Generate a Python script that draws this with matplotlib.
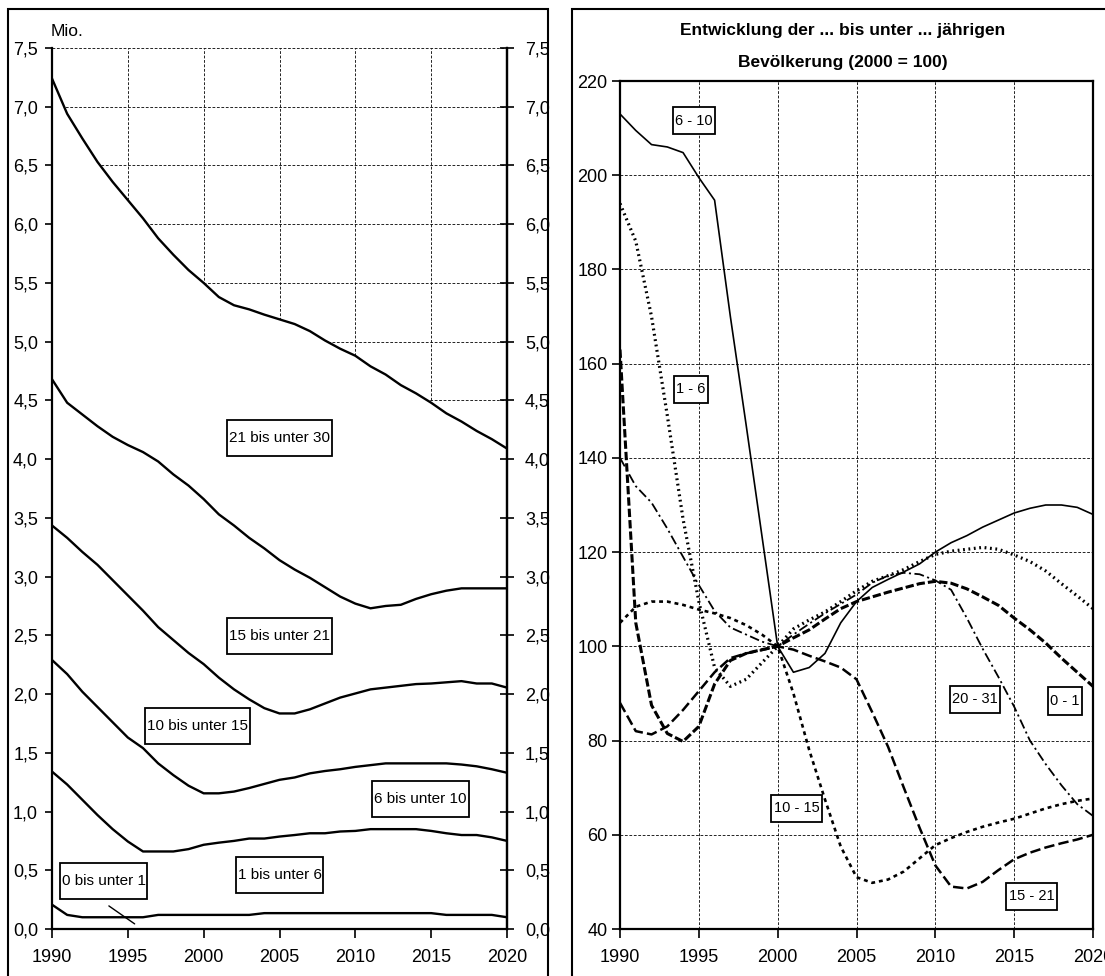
import numpy as np
import matplotlib
matplotlib.use("Agg")
import matplotlib.pyplot as plt
from matplotlib.patches import Rectangle
from matplotlib.path import Path
from matplotlib.ticker import FuncFormatter

plt.rcParams['font.family'] = ['Liberation Sans', 'DejaVu Sans']
plt.rcParams['lines.scale_dashes'] = False

# ---------------- data ----------------
years = list(range(1990, 2021))

# left chart: population (Mio.) below age limit (cumulative boundaries)
under_1 = [0.207, 0.12, 0.10, 0.10, 0.10, 0.10, 0.10, 0.12, 0.12, 0.12, 0.12, 0.12, 0.12, 0.12,
           0.135, 0.135, 0.135, 0.135, 0.135, 0.135, 0.135, 0.135, 0.135, 0.135, 0.135, 0.135,
           0.12, 0.12, 0.12, 0.12, 0.10]
under_6 = [1.34, 1.23, 1.10, 0.97, 0.85, 0.745, 0.66, 0.66, 0.66, 0.68, 0.717, 0.735, 0.75, 0.77,
           0.77, 0.787, 0.80, 0.815, 0.815, 0.83, 0.835, 0.85, 0.85, 0.85, 0.85, 0.835, 0.815,
           0.80, 0.80, 0.78, 0.75]
under_10 = [2.29, 2.17, 2.02, 1.89, 1.76, 1.63, 1.54, 1.41, 1.31, 1.22, 1.155, 1.155, 1.17, 1.20,
            1.235, 1.27, 1.29, 1.325, 1.345, 1.36, 1.38, 1.395, 1.41, 1.41, 1.41, 1.41, 1.41,
            1.40, 1.385, 1.36, 1.33]
under_15 = [3.435, 3.33, 3.21, 3.10, 2.97, 2.84, 2.71, 2.57, 2.46, 2.35, 2.255, 2.14, 2.04, 1.955,
            1.88, 1.835, 1.835, 1.87, 1.92, 1.97, 2.005, 2.04, 2.055, 2.07, 2.085, 2.09, 2.10,
            2.11, 2.09, 2.09, 2.055]
under_21 = [4.68, 4.48, 4.38, 4.28, 4.19, 4.12, 4.06, 3.98, 3.87, 3.775, 3.66, 3.53, 3.435, 3.33,
            3.24, 3.14, 3.06, 2.99, 2.91, 2.83, 2.77, 2.73, 2.75, 2.76, 2.81, 2.85, 2.88, 2.90,
            2.90, 2.90, 2.90]
under_30 = [7.24, 6.94, 6.73, 6.53, 6.36, 6.205, 6.05, 5.88, 5.74, 5.61, 5.50, 5.38, 5.31, 5.275,
            5.23, 5.19, 5.15, 5.09, 5.01, 4.94, 4.88, 4.79, 4.72, 4.63, 4.56, 4.48, 4.39, 4.32,
            4.24, 4.17, 4.09]

left_labels = ["0 bis unter 1", "1 bis unter 6", "6 bis unter 10", "10 bis unter 15",
               "15 bis unter 21", "21 bis unter 30"]
left_label_x = [1993.4, 2005.0, 2014.3, 1999.6, 2005.0, 2005.0]
left_label_y = [0.405, 0.456, 1.11, 1.73, 2.495, 4.18]

# right chart: index 2000 = 100
idx_0_1 = [163, 105, 87.5, 81.5, 79.8, 83, 92, 97, 98.5, 99.3, 100, 101.8, 103.5, 105.8, 108,
           109.5, 110.5, 111.5, 112.4, 113.3, 113.8, 113.4, 112.2, 110.5, 108.7, 106, 103.5,
           100.7, 97.5, 94.5, 91.5]
idx_1_6 = [194, 186, 170, 149, 127, 109.5, 95.5, 91.5, 93, 96.5, 100, 103.7, 105.6, 107.3, 109.5,
           111.8, 113.8, 115, 116.3, 118, 119.5, 120.2, 120.6, 121, 120.6, 119.4, 118, 116,
           113.3, 110.7, 108]
idx_6_10 = [213, 209.5, 206.5, 206, 204.8, 199.5, 194.7, 170, 147, 123.5, 100, 94.5, 95.5, 98.5,
            105, 109.5, 112.5, 114.2, 115.8, 117.5, 120, 122, 123.5, 125.3, 126.8, 128.3, 129.3,
            130, 130, 129.5, 128]
idx_10_15 = [105, 108.4, 109.5, 109.5, 108.8, 107.8, 107, 106, 104.5, 102.5, 100, 90, 78, 67.5,
             57.5, 51, 49.8, 50.5, 52.2, 55, 57.8, 59.3, 60.6, 61.7, 62.6, 63.4, 64.5, 65.6,
             66.5, 67.2, 67.7]
idx_15_21 = [88, 82, 81.3, 83, 86.5, 90.5, 94.5, 97.5, 98.5, 99.2, 100, 99.3, 98, 96.8, 95.5, 93,
             86, 78.7, 70, 61.5, 53.5, 49, 48.6, 50, 52.5, 54.8, 56.2, 57.3, 58.2, 59, 60]
idx_21_30 = [140, 134, 130.5, 125, 119, 113, 107.5, 104, 102.5, 101, 100, 102.5, 104.8, 107, 109,
             111, 113.5, 115, 115.6, 115.3, 114, 112, 106, 99.5, 93.5, 87.2, 80, 75, 70.5, 66.5, 64]

right_labels = ["6 - 10", "1 - 6", "20 - 31", "0 - 1", "10 - 15", "15 - 21"]
right_label_x = [1994.7, 1994.5, 2012.5, 2018.2, 2001.2, 2016.1]
right_label_y = [211.6, 154.6, 88.8, 88.4, 65.6, 46.9]

title_lines = ["Entwicklung der ... bis unter ... jährigen", "Bevölkerung (2000 = 100)"]


def make_box(padx, pady):
    def box(x0, y0, width, height, mutation_size):
        px, py = padx * mutation_size, pady * mutation_size
        a, b = x0 - px, y0 - py
        c, d = x0 + width + px, y0 + height + py
        return Path([(a, b), (c, b), (c, d), (a, d), (a, b)], closed=True)
    return box


# ---------------- figure ----------------
W, H = 1105, 976
fig = plt.figure(figsize=(W / 100, H / 100), dpi=100)
fig.patch.set_facecolor('white')

# panel frames
fig.patches.append(Rectangle((7.7 / W, -0.05), (548.3 - 7.7) / W, 1.05 - 9.3 / H,
                             transform=fig.transFigure, fill=False, ec='black', lw=1.5))
fig.patches.append(Rectangle((571.7 / W, -0.05), 0.6, 1.05 - 9.3 / H,
                             transform=fig.transFigure, fill=False, ec='black', lw=1.5))

grid_kw = dict(color='black', lw=0.6, ls=(0, (2.0, 1.2)))
tick_font = 13

# ---------- left chart ----------
axL = fig.add_axes([52 / W, 1 - 929 / H, (507 - 52) / W, (929 - 48) / H])
axL.set_xlim(1990, 2020)
axL.set_ylim(0, 7.5)
axL.set_axisbelow(True)
axL.set_xticks(range(1990, 2021, 5))
axL.set_yticks(np.arange(0, 7.51, 0.5))
axL.yaxis.set_major_formatter(FuncFormatter(lambda v, p: f"{v:.1f}".replace('.', ',')))
axL.grid(True, **grid_kw)
axL.fill_between(years, 0, under_30, color='white', zorder=1)
for s in [under_1, under_6, under_10, under_15, under_21, under_30]:
    axL.plot(years, s, color='black', lw=1.7, zorder=2, solid_joinstyle='round')
axL.spines['top'].set_visible(False)
for sp in ['left', 'bottom', 'right']:
    axL.spines[sp].set_linewidth(1.6)
axL.tick_params(axis='y', direction='out', length=5, width=1.2, pad=5, labelsize=tick_font)
axL.tick_params(axis='x', direction='out', length=6.5, width=1.2, pad=8, labelsize=tick_font)
axL2 = axL.twinx()
axL2.set_ylim(0, 7.5)
axL2.set_yticks(np.arange(0, 7.51, 0.5))
axL2.yaxis.set_major_formatter(FuncFormatter(lambda v, p: f"{v:.1f}".replace('.', ',')))
axL2.tick_params(axis='y', direction='inout', length=10, width=1.2, pad=8, labelsize=tick_font)
for sp in ['top', 'left', 'bottom']:
    axL2.spines[sp].set_visible(False)
axL2.spines['right'].set_linewidth(1.6)

box_kw = dict(boxstyle=make_box(0.12, 0.72), fc='white', ec='black', lw=1.3)
for t, x, y in zip(left_labels, left_label_x, left_label_y):
    axL.text(x, y, t, ha='center', va='center', fontsize=11, bbox=box_kw, zorder=5)
# leader line for the smallest group
axL.annotate('', xy=(1995.6, 0.03), xytext=(1993.6, 0.21),
             arrowprops=dict(arrowstyle='-', lw=1.0, color='black'), zorder=5)

fig.text(51 / W, 1 - 31 / H, "Mio.", ha='left', va='center', fontsize=12.5)

# ---------- right chart ----------
axR = fig.add_axes([620 / W, 1 - 929 / H, (1093 - 620) / W, (929 - 81) / H])
axR.set_xlim(1990, 2020)
axR.set_ylim(40, 220)
axR.set_axisbelow(True)
axR.set_xticks(range(1990, 2021, 5))
axR.set_yticks(range(40, 221, 20))
axR.grid(True, **grid_kw)
for sp in axR.spines.values():
    sp.set_linewidth(1.6)
axR.tick_params(axis='y', direction='out', length=6, width=1.2, pad=3, labelsize=tick_font)
axR.tick_params(axis='x', direction='out', length=6.5, width=1.2, pad=8, labelsize=tick_font)

styles = [
    (idx_6_10, dict(ls='-', lw=1.2)),
    (idx_1_6, dict(ls=(0, (1.3, 2.6)), lw=2.3)),
    (idx_0_1, dict(ls=(0, (6, 2.2)), lw=2.2)),
    (idx_10_15, dict(ls=(0, (2.8, 2.8)), lw=1.9)),
    (idx_15_21, dict(ls=(0, (7.5, 3)), lw=1.8)),
    (idx_21_30, dict(ls=(0, (7, 2.5, 1.5, 2.5)), lw=1.3)),
]
for s, kw in styles:
    axR.plot(years, s, color='black', zorder=3, **kw)

box_kw2 = dict(boxstyle=make_box(0.16, 0.45), fc='white', ec='black', lw=1.3)
for t, x, y in zip(right_labels, right_label_x, right_label_y):
    axR.text(x, y, t, ha='center', va='center', fontsize=10.5, bbox=box_kw2, zorder=5)

fig.text(843 / W, 1 - 30 / H, title_lines[0], ha='center', va='center',
         fontsize=12.5, fontweight='bold')
fig.text(843 / W, 1 - 62 / H, title_lines[1], ha='center', va='center',
         fontsize=12.5, fontweight='bold')

fig.savefig("out.png", dpi=100)
